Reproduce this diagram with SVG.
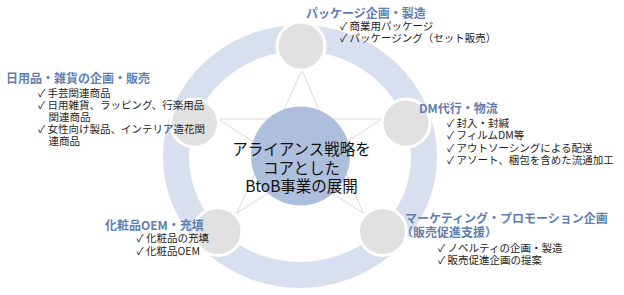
<svg xmlns="http://www.w3.org/2000/svg" width="624" height="295" viewBox="0 0 624 295">
<style>
.ring{fill:none;stroke:#d8dfee;stroke-width:26}
.sat{fill:#e1e1e1;stroke:#ffffff;stroke-width:3}
.core{fill:#aebfdd}
.star{fill:none;stroke:#d9d9d9;stroke-width:1}
text{font-family:"Noto Sans CJK JP","Noto Sans",sans-serif}
.hd{font-size:12px;font-weight:bold;fill:#5f7fb0}
.it{font-size:10.5px;font-weight:normal;fill:#1e1e1e}
.ct{font-size:15.5px;fill:#111111;text-anchor:middle}
</style>
<rect width="624" height="295" fill="#ffffff"/>
<ellipse class="ring" cx="300" cy="156.5" rx="124" ry="118.5"/>
<g id="connectors">
<polygon class="star" points="302,70 236.7,213.3 382,119 218,119 363.3,213.3"/>
</g>
<g id="node-center">
<circle class="core" cx="300.5" cy="156" r="49.5"/>
<text class="ct"><tspan x="301.5" y="155">アライアンス戦略を</tspan><tspan x="301.5" y="173.5">コアとした</tspan><tspan x="301.5" y="192">BtoB事業の展開</tspan></text>
</g>
<g id="node-package">
<circle class="sat" cx="301" cy="46" r="24"/>
<text><tspan class="hd" x="306" y="18">パッケージ企画・製造</tspan><tspan class="it" x="340" y="30">✓ 商業用パッケージ</tspan><tspan class="it" x="340" y="42">✓ パッケージング（セット販売）</tspan></text>
</g>
<g id="node-dm">
<circle class="sat" cx="406" cy="123" r="24"/>
<text><tspan class="hd" x="419" y="113">DM代行・物流</tspan><tspan class="it" x="447" y="127">✓ 封入・封緘</tspan><tspan class="it" x="447" y="139">✓ フィルムDM等</tspan><tspan class="it" x="447" y="151.5">✓ アウトソーシングによる配送</tspan><tspan class="it" x="447" y="163.5">✓ アソート、梱包を含めた流通加工</tspan></text>
</g>
<g id="node-marketing">
<circle class="sat" cx="382.5" cy="231.5" r="24"/>
<text><tspan class="hd" x="405" y="223">マーケティング・プロモーション企画</tspan><tspan class="hd" x="401" y="236.5">（販売促進支援）</tspan><tspan class="it" x="438" y="251.5">✓ ノベルティの企画・製造</tspan><tspan class="it" x="438" y="263.5">✓ 販売促進企画の提案</tspan></text>
</g>
<g id="node-cosmetics">
<circle class="sat" cx="218" cy="231.5" r="24"/>
<text><tspan class="hd" x="105" y="230">化粧品OEM・充填</tspan><tspan class="it" x="136.5" y="242">✓ 化粧品の充填</tspan><tspan class="it" x="136.5" y="254.5">✓ 化粧品OEM</tspan></text>
</g>
<g id="node-daily">
<circle class="sat" cx="194.5" cy="123" r="24"/>
<text><tspan class="hd" x="6" y="82.5">日用品・雑貨の企画・販売</tspan><tspan class="it" x="38" y="96.5">✓ 手芸関連商品</tspan><tspan class="it" x="38" y="108.5">✓ 日用雑貨、ラッピング、行楽用品</tspan><tspan class="it" x="48.5" y="120.5">関連商品</tspan><tspan class="it" x="38" y="132.5">✓ 女性向け製品、インテリア造花関</tspan><tspan class="it" x="48.5" y="144.5">連商品</tspan></text>
</g>
</svg>
